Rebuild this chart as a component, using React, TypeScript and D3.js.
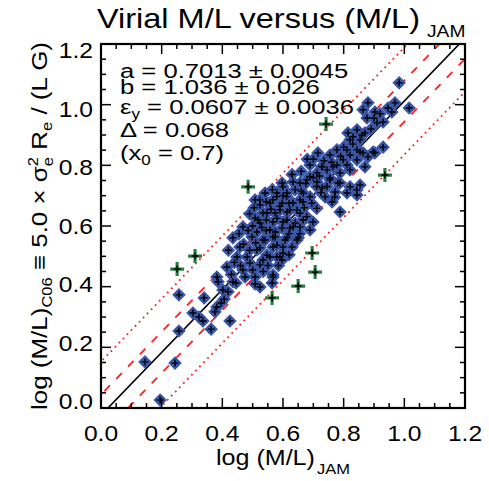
import React from 'react';
import * as d3 from 'd3';

// ---- data (log M/L JAM, log M/L virial) ----
const blueX = [
  0.195, 0.145, 0.244, 0.257, 0.257, 0.303, 0.323, 0.336, 0.340, 0.363,
  0.376, 0.382, 0.396, 0.406, 0.402, 0.419, 0.425, 0.386, 0.435, 0.508,
  0.524, 0.564, 0.382, 0.415, 0.435, 0.468, 0.458, 0.448, 0.481, 0.491,
  0.468, 0.475, 0.508, 0.514, 0.541, 0.567, 0.534, 0.557, 0.590, 0.567,
  0.518, 0.524, 0.597, 0.613, 0.633, 0.633, 0.567, 0.590, 0.547, 0.613,
  0.633, 0.597, 0.580, 0.607, 0.630, 0.646, 0.445, 0.715, 0.755, 0.821,
  0.844, 0.880, 0.854, 0.903, 0.811, 0.870, 0.778, 0.745, 0.712, 0.689,
  0.679, 0.712, 0.755, 0.781, 0.821, 0.854, 0.811, 0.844, 0.772, 0.729,
  0.656, 0.600, 0.580, 0.541, 0.508, 0.524, 0.557, 0.597, 0.666, 0.689,
  0.739, 0.762, 0.788, 0.646, 0.613, 0.574, 0.534, 0.508, 0.524, 0.567,
  0.600, 0.666, 0.699, 0.656, 0.623, 0.557, 0.514, 0.498, 0.534, 0.574,
  0.613, 0.650, 0.600, 0.567, 0.524, 0.580, 0.547, 0.597, 0.524, 0.567,
  0.983, 1.016, 0.969, 0.946, 0.959, 0.930, 0.880, 0.864, 0.903, 0.877,
  0.910, 0.831, 0.821, 0.854, 0.811, 0.844, 0.864, 0.897, 0.798, 0.778,
  0.765, 0.788, 0.729, 0.755, 0.788, 0.844, 0.814, 0.870, 0.930, 0.590,
  0.623, 0.656, 0.678, 0.711, 0.689, 0.667, 0.612, 0.656, 0.579, 0.689,
  0.711, 0.843, 0.821, 0.728,
  0.455, 0.470, 0.490, 0.500, 0.485, 0.530, 0.545, 0.560, 0.580, 0.600,
  0.620, 0.640, 0.660, 0.675, 0.700, 0.720, 0.735, 0.700, 0.760, 0.790,
  0.800, 0.830, 0.860, 0.890, 0.900, 0.920, 0.640, 0.620, 0.655, 0.670,
  0.695, 0.725, 0.745, 0.770, 0.550, 0.535, 0.500, 0.460, 0.430, 0.440,
  0.420, 0.600, 0.620, 0.585, 0.575, 0.545, 0.510, 0.490, 0.505, 0.545,
  0.565, 0.630, 0.660, 0.680
];
const blueY = [
  0.026, 0.152, 0.148, 0.254, 0.373, 0.313, 0.300, 0.287, 0.363, 0.260,
  0.317, 0.333, 0.346, 0.359, 0.389, 0.383, 0.287, 0.416, 0.416, 0.409,
  0.399, 0.412, 0.432, 0.465, 0.561, 0.597, 0.531, 0.498, 0.498, 0.478,
  0.455, 0.432, 0.432, 0.521, 0.554, 0.564, 0.488, 0.498, 0.498, 0.432,
  0.620, 0.686, 0.742, 0.709, 0.745, 0.676, 0.686, 0.653, 0.643, 0.620,
  0.597, 0.593, 0.537, 0.554, 0.531, 0.554, 0.412, 0.841, 0.834, 0.834,
  0.818, 0.828, 0.844, 0.841, 0.801, 0.795, 0.801, 0.785, 0.775, 0.801,
  0.752, 0.745, 0.758, 0.742, 0.729, 0.735, 0.709, 0.702, 0.712, 0.725,
  0.742, 0.729, 0.709, 0.709, 0.686, 0.669, 0.676, 0.676, 0.679, 0.696,
  0.696, 0.679, 0.646, 0.653, 0.646, 0.643, 0.643, 0.626, 0.610, 0.613,
  0.613, 0.620, 0.613, 0.597, 0.593, 0.587, 0.580, 0.564, 0.554, 0.564,
  0.561, 0.561, 0.531, 0.531, 0.528, 0.498, 0.504, 0.488, 0.472, 0.439,
  1.072, 0.989, 1.006, 0.989, 0.976, 0.860, 1.006, 0.983, 0.976, 0.956,
  0.940, 0.894, 0.884, 0.884, 0.851, 0.851, 0.841, 0.844, 0.818, 0.851,
  0.795, 0.775, 0.795, 0.752, 0.742, 0.917, 0.907, 0.907, 0.943, 0.665,
  0.653, 0.642, 0.631, 0.658, 0.587, 0.708, 0.697, 0.686, 0.697, 0.763,
  0.730, 0.719, 0.785, 0.796,
  0.575, 0.540, 0.520, 0.600, 0.585, 0.595, 0.620, 0.655, 0.625, 0.700,
  0.675, 0.720, 0.715, 0.740, 0.760, 0.765, 0.815, 0.820, 0.810, 0.830,
  0.860, 0.870, 0.900, 0.920, 0.955, 0.970, 0.610, 0.575, 0.575, 0.660,
  0.675, 0.710, 0.730, 0.695, 0.470, 0.450, 0.455, 0.470, 0.440, 0.480,
  0.520, 0.510, 0.505, 0.470, 0.580, 0.585, 0.545, 0.640, 0.660, 0.680,
  0.720, 0.770, 0.780, 0.820
];
const greenX = [0.485, 0.310, 0.251, 0.650, 0.564, 0.696, 0.706, 0.936, 0.742];
const greenY = [0.729, 0.501, 0.458, 0.402, 0.363, 0.511, 0.448, 0.768, 0.936];

const majorTicks = [0, 0.2, 0.4, 0.6, 0.8, 1.0, 1.2];
const tickLabels = ['0.0', '0.2', '0.4', '0.6', '0.8', '1.0', '1.2'];

const fitA = 0.7013;
const fitB = 1.036;
const fitX0 = 0.7;
const fitDelta = 0.068;
const fitEps = 0.0607;

const FONT = '"Liberation Sans", Arial, Helvetica, sans-serif';

function T({ x, y, size, sx = 1, anchor = 'start', rot = 0, children }: any) {
  return (
    <text
      transform={`translate(${x},${y}) rotate(${rot}) scale(${sx},1)`}
      fontSize={size}
      textAnchor={anchor}
      fontFamily={FONT}
      fill="#000"
    >
      {children}
    </text>
  );
}

export default function App() {
  const W = 489, H = 481;
  const L = 101, R = 465, TOP = 44, BOT = 408;
  const x = d3.scaleLinear().domain([0, 1.2]).range([L, R]);
  const y = d3.scaleLinear().domain([0, 1.2]).range([BOT, TOP]);
  const line = d3.line<[number, number]>().x(d => x(d[0])).y(d => y(d[1]));
  const fit = (off: number) => line([
    [-0.3, fitA + fitB * (-0.3 - fitX0) + off],
    [1.5, fitA + fitB * (1.5 - fitX0) + off],
  ] as [number, number][]) as string;

  const minor = d3.range(0, 1.2001, 0.05);
  const isMajor = (v: number) => Math.abs(v / 0.2 - Math.round(v / 0.2)) < 1e-6;
  const majLen = 10, minLen = 5;

  const blue = blueX.map((v, i) => [v, blueY[i]]);
  const green = greenX.map((v, i) => [v, greenY[i]]);

  const s = 6.8;
  const diamond = `M0,${-s} L${s},0 L0,${s} L${-s},0Z`;

  return (
    <svg width={W} height={H} style={{ position: 'absolute', left: 0, top: 0, background: '#fff' }}>
      <rect x={0} y={0} width={W} height={H} fill="#fff" />
      <defs>
        <clipPath id="plotclip">
          <rect x={L} y={TOP} width={R - L} height={BOT - TOP} />
        </clipPath>
      </defs>

      {/* lines */}
      <g clipPath="url(#plotclip)" fill="none">
        <path d={fit(2.6 * fitDelta)} stroke="#ff2020" strokeWidth={1.8} strokeDasharray="1.8,4" />
        <path d={fit(-2.6 * fitDelta)} stroke="#ff2020" strokeWidth={1.8} strokeDasharray="1.8,4" />
        <path d={fit(fitDelta)} stroke="#ff2020" strokeWidth={1.8} strokeDasharray="8,9" />
        <path d={fit(-fitDelta)} stroke="#ff2020" strokeWidth={1.8} strokeDasharray="8,9" />
        <path d={fit(0)} stroke="#000" strokeWidth={1.6} />
      </g>

      {/* points */}
      <g clipPath="url(#plotclip)">
        {blue.map((p, i) => (
          <path key={'b' + i} d={diamond} transform={`translate(${x(p[0])},${y(p[1])})`} fill="#3b56a6" />
        ))}
        {blue.map((p, i) => (
          <path key={'bp' + i} d="M-3.5,0H3.5M0,-3.5V3.5" transform={`translate(${x(p[0])},${y(p[1])})`} stroke="#000" strokeWidth={1.4} />
        ))}
        {green.map((p, i) => (
          <g key={'g' + i} transform={`translate(${x(p[0])},${y(p[1])})`}>
            <path d="M-7,0H7M0,-7V7" stroke="#2b8040" strokeWidth={3.2} />
            <path d="M-3.5,0H3.5M0,-3.5V3.5" stroke="#000" strokeWidth={1.4} />
          </g>
        ))}
      </g>

      {/* ticks */}
      <g stroke="#000" strokeWidth={1.5}>
        {minor.map((v, i) => {
          const len = isMajor(v) ? majLen : minLen;
          const xv = x(v), yv = y(v);
          return (
            <g key={'t' + i}>
              <line x1={xv} x2={xv} y1={BOT} y2={BOT - len} />
              <line x1={xv} x2={xv} y1={TOP} y2={TOP + len} />
              <line x1={L} x2={L + len} y1={yv} y2={yv} />
              <line x1={R} x2={R - len} y1={yv} y2={yv} />
            </g>
          );
        })}
      </g>
      <rect x={L} y={TOP} width={R - L} height={BOT - TOP} fill="none" stroke="#000" strokeWidth={2.2} />

      {/* tick labels */}
      {majorTicks.map((v, i) => (
        <T key={'xl' + i} x={x(v)} y={441} size={22} sx={1.12} anchor="middle">{tickLabels[i]}</T>
      ))}
      {majorTicks.map((v, i) => (
        <T key={'yl' + i} x={93} y={401 - v * 292.5 + 8} size={22} sx={1.12} anchor="end">{tickLabels[i]}</T>
      ))}

      {/* title */}
      <T x={97} y={28} size={28} sx={1.16}>Virial M/L versus (M/L)</T>
      <T x={427} y={37} size={16} sx={1.2}>JAM</T>

      {/* x label */}
      <T x={216} y={465} size={22} sx={1.14}>log (M/L)</T>
      <T x={317} y={474} size={15} sx={1.1}>JAM</T>

      {/* y label */}
      <T x={47} y={226} size={22} sx={1.18} rot={-90} anchor="middle">
        log (M/L)<tspan fontSize={14} dy={5}>C06</tspan>
        <tspan dy={-5}> ≡ 5.0 × σ</tspan>
        <tspan fontSize={14} dy={-9}>2</tspan>
        <tspan fontSize={14} dx={-7.8} dy={15}>e</tspan>
        <tspan dy={-6}> R</tspan>
        <tspan fontSize={14} dy={5}>e</tspan>
        <tspan dy={-5}> / (L G)</tspan>
      </T>

      {/* annotations */}
      <T x={120} y={78} size={21} sx={1.22}>a = {fitA.toFixed(4)} ± 0.0045</T>
      <T x={120} y={94} size={21} sx={1.22}>b = {fitB.toFixed(3)} ± 0.026</T>
      <T x={120} y={114} size={21} sx={1.22}>
        ε<tspan fontSize={14} dy={5}>y</tspan><tspan dy={-5}> = {fitEps.toFixed(4)} ± 0.0036</tspan>
      </T>
      <T x={120} y={137} size={21} sx={1.22}>Δ = {fitDelta.toFixed(3)}</T>
      <T x={120} y={160} size={21} sx={1.22}>
        (x<tspan fontSize={14} dy={5}>0</tspan><tspan dy={-5}> = {fitX0.toFixed(1)})</tspan>
      </T>
    </svg>
  );
}
